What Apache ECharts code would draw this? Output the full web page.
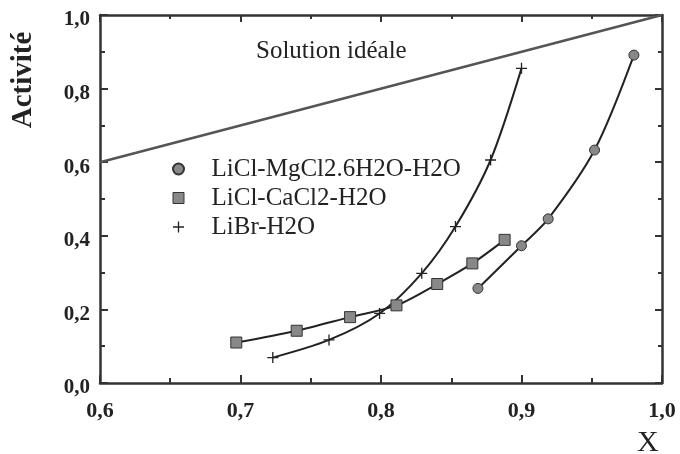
<!DOCTYPE html>
<html>
<head>
<meta charset="utf-8">
<script src="https://cdn.jsdelivr.net/npm/echarts@6/dist/echarts.min.js"></script>
<style>
  html, body { margin: 0; padding: 0; background: #fff; }
  #chart { width: 680px; height: 454px; }
</style>
</head>
<body>
<div id="chart"></div>
<script>
// values
var xTickLabels = ['0,6', '0,7', '0,8', '0,9', '1,0']
var yTickLabels = ['0,0', '0,2', '0,4', '0,6', '0,8', '1,0']
var seriesNames = ['LiCl-MgCl2.6H2O-H2O', 'LiCl-CaCl2-H2O', 'LiBr-H2O']

var idealX = [0.6, 1.0]
var idealY = [0.6, 1.0]

var mgX = [0.869, 0.900, 0.919, 0.952, 0.980]
var mgY = [0.257, 0.373, 0.446, 0.633, 0.891]

var caX = [0.697, 0.740, 0.778, 0.811, 0.840, 0.865, 0.888]
var caY = [0.110, 0.142, 0.179, 0.211, 0.269, 0.325, 0.389]

var brX = [0.723, 0.763, 0.799, 0.829, 0.853, 0.878, 0.900]
var brY = [0.069, 0.117, 0.189, 0.298, 0.425, 0.606, 0.855]

function pairs (xs, ys) {
  return xs.map(function (x, i) { return [x, ys[i]] })
}

var plusPath = 'path://M-0.6,-5h1.2v4.4h4.4v1.2h-4.4v4.4h-1.2v-4.4h-4.4v-1.2h4.4z'
var squarePath = 'path://M0,0h10v10h-10z'
var serif = '"Liberation Serif", "DejaVu Serif", serif'
var axisColor = '#333'

var chart = echarts.init(document.getElementById('chart'))

var option = {
  animation: false,
  backgroundColor: '#fff',
  grid: { left: 100, right: 18, top: 15, bottom: 71 },
  legend: {
    orient: 'vertical',
    left: 167,
    top: 151,
    itemGap: 3,
    itemWidth: 56,
    itemHeight: 11,
    textStyle: { fontFamily: serif, fontSize: 25, lineHeight: 26, color: '#222' },
    data: [
      { name: seriesNames[0], icon: 'circle' },
      { name: seriesNames[1], icon: squarePath, itemStyle: { borderWidth: 1 } },
      { name: seriesNames[2], icon: plusPath }
    ]
  },
  xAxis: [{
    type: 'value',
    min: 0.6,
    max: 1.0,
    interval: 0.1,
    axisLine: { show: true, lineStyle: { color: axisColor, width: 2.5 } },
    axisTick: { show: true, inside: true, length: 8, lineStyle: { color: axisColor, width: 2 } },
    minorTick: { show: true, splitNumber: 2, length: 5, lineStyle: { color: axisColor, width: 2 } },
    splitLine: { show: false },
    axisLabel: {
      margin: 17,
      fontFamily: serif,
      fontWeight: 'bold',
      fontSize: 22,
      color: '#222',
      formatter: function (v) { return xTickLabels[Math.round((v - 0.6) * 10)] }
    }
  }, {
    type: 'value',
    position: 'top',
    min: 0.6,
    max: 1.0,
    interval: 0.1,
    axisLine: { show: true, onZero: false, lineStyle: { color: axisColor, width: 2.5 } },
    axisTick: { show: true, inside: true, length: 7, lineStyle: { color: axisColor, width: 2 } },
    minorTick: { show: true, splitNumber: 2, length: 4, lineStyle: { color: axisColor, width: 2 } },
    splitLine: { show: false },
    axisLabel: { show: false }
  }],
  yAxis: [{
    type: 'value',
    min: 0,
    max: 1.0,
    interval: 0.2,
    axisLine: { show: true, lineStyle: { color: axisColor, width: 2.5 } },
    axisTick: { show: true, inside: true, length: 8, lineStyle: { color: axisColor, width: 2 } },
    minorTick: { show: true, splitNumber: 2, length: 5, lineStyle: { color: axisColor, width: 2 } },
    splitLine: { show: false },
    axisLabel: {
      margin: 10,
      formatter: function (v) { return '{t|' + yTickLabels[Math.round(v * 5)] + '}' },
      rich: {
        t: {
          fontFamily: serif,
          fontWeight: 'bold',
          fontSize: 21,
          color: '#222',
          padding: [10, 0, 0, 0]
        }
      }
    }
  }, {
    type: 'value',
    position: 'right',
    min: 0,
    max: 1.0,
    interval: 0.2,
    axisLine: { show: true, onZero: false, lineStyle: { color: axisColor, width: 2.5 } },
    axisTick: { show: true, inside: true, length: 7, lineStyle: { color: axisColor, width: 2 } },
    minorTick: { show: true, splitNumber: 2, length: 4, lineStyle: { color: axisColor, width: 2 } },
    splitLine: { show: false },
    axisLabel: { show: false }
  }],
  graphic: [{
    type: 'text',
    left: 256,
    top: 39,
    style: { text: 'Solution idéale', fontFamily: serif, fontSize: 25, fill: '#222' }
  }, {
    type: 'text',
    x: 24,
    y: 80,
    rotation: Math.PI / 2,
    style: {
      text: 'Activité',
      fontFamily: serif,
      fontWeight: 'bold',
      fontSize: 29,
      fill: '#222',
      align: 'center',
      verticalAlign: 'middle'
    }
  }, {
    type: 'text',
    left: 637,
    top: 428,
    style: { text: 'X', fontFamily: serif, fontSize: 30, fill: '#222' }
  }],
  series: [{
    name: 'ideal',
    type: 'line',
    data: pairs(idealX, idealY),
    showSymbol: false,
    lineStyle: { color: '#555', width: 2.5 },
    z: 1
  }, {
    name: seriesNames[0],
    type: 'line',
    data: pairs(mgX, mgY),
    smooth: 0.3,
    symbol: 'circle',
    symbolSize: 10,
    itemStyle: { color: '#888', borderColor: '#333', borderWidth: 1 },
    lineStyle: { color: '#222', width: 2 }
  }, {
    name: seriesNames[1],
    type: 'line',
    data: pairs(caX, caY),
    smooth: 0.3,
    symbol: 'rect',
    symbolSize: 11,
    itemStyle: { color: '#888', borderColor: '#333', borderWidth: 1 },
    lineStyle: { color: '#222', width: 2 }
  }, {
    name: seriesNames[2],
    type: 'line',
    data: pairs(brX, brY),
    smooth: 0.3,
    symbol: plusPath,
    symbolSize: 11,
    itemStyle: { color: '#222' },
    lineStyle: { color: '#222', width: 2 }
  }]
}

chart.setOption(option)
</script>
</body>
</html>
